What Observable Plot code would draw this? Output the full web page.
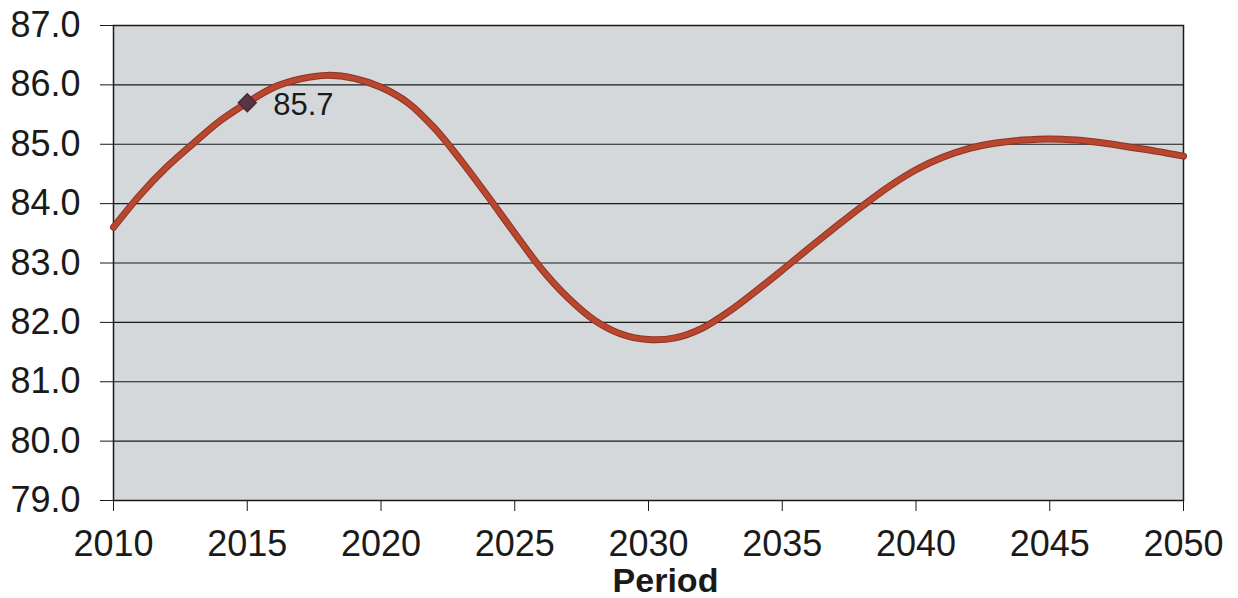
<!DOCTYPE html>
<html>
<head>
<meta charset="utf-8">
<script src="https://cdn.jsdelivr.net/npm/d3@7"></script>
<script src="https://cdn.jsdelivr.net/npm/@observablehq/plot@0.6"></script>
<style>
  html, body { margin: 0; padding: 0; background: #ffffff; }
  #chart { width: 1238px; height: 598px; }
</style>
</head>
<body>
<div id="chart"></div>
<script>
const years = [2010,2011,2012,2013,2014,2015,2016,2017,2018,2019,2020,
  2021,2022,2023,2024,2025,2026,2027,2028,2029,2030,
  2031,2032,2033,2034,2035,2036,2037,2038,2039,2040,
  2041,2042,2043,2044,2045,2046,2047,2048,2049,2050];
const values = [83.6,84.15,84.62,85.02,85.4,85.7,85.96,86.1,86.16,86.11,85.96,
  85.7,85.27,84.72,84.12,83.5,82.9,82.41,82.03,81.8,81.71,
  81.74,81.9,82.18,82.52,82.88,83.25,83.61,83.96,84.29,84.57,
  84.78,84.93,85.02,85.07,85.09,85.07,85.02,84.95,84.88,84.8];
const yTicks = [79,80,81,82,83,84,85,86,87];
const xTicks = [2010,2015,2020,2025,2030,2035,2040,2045,2050];
const markedYear = [2015];
const markedValue = [85.7];
const xLabel = ["Period"];

const data = years.map((y, i) => ({year: y, value: values[i]}));
const marked = markedYear.map((y, i) => ({year: y, value: markedValue[i], label: markedValue[i].toFixed(1)}));

const font = "'Liberation Sans', Arial, Helvetica, sans-serif";

const chart = Plot.plot({
  width: 1238,
  height: 598,
  marginLeft: 113,
  marginRight: 55,
  marginTop: 25,
  marginBottom: 98,
  style: {fontFamily: font, background: "#ffffff", color: "#1a1a1a", overflow: "visible"},
  x: {domain: [2010, 2050]},
  y: {domain: [79, 87]},
  marks: [
    Plot.frame({fill: "#d4d8db", stroke: null}),
    Plot.ruleY(yTicks, {stroke: "#1a1a1a", strokeWidth: 1.2}),
    Plot.frame({stroke: "#1a1a1a", strokeWidth: 1.5}),
    Plot.axisY(yTicks, {tickSize: 13, tickPadding: 20, tickFormat: d3.format(".1f"), fontSize: 36, stroke: "#1a1a1a", label: null}),
    Plot.axisX(xTicks, {tickSize: 11, tickPadding: 19, tickFormat: d => String(d), fontSize: 36, stroke: "#1a1a1a", label: null}),
    Plot.line(data, {x: "year", y: "value", curve: "catmull-rom", stroke: "#8e3322", strokeWidth: 7}),
    Plot.line(data, {x: "year", y: "value", curve: "catmull-rom", stroke: "#b9462e", strokeWidth: 5}),
    Plot.dot(marked, {x: "year", y: "value", symbol: "diamond2", r: 8, fill: "#5a3443", stroke: "#4a2a36"}),
    Plot.text(marked, {x: "year", y: "value", text: "label", textAnchor: "start", lineAnchor: "middle", dx: 26, dy: 2, fontSize: 31, fill: "#1a1a1a"}),
    Plot.text(xLabel, {frameAnchor: "bottom", text: d => d, dx: 17, dy: 91, lineAnchor: "bottom", fontSize: 34, fontWeight: "bold", fill: "#1a1a1a"})
  ]
});
document.getElementById("chart").appendChild(chart);
</script>
</body>
</html>
